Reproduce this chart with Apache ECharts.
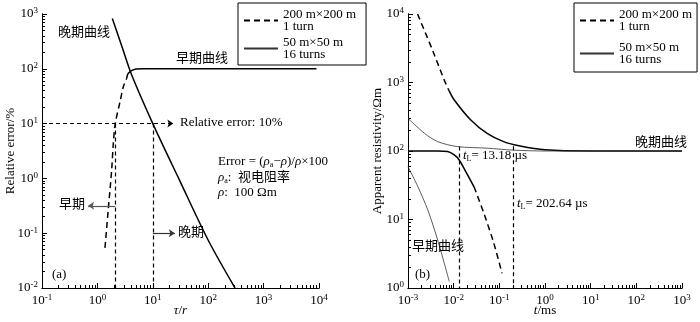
<!DOCTYPE html>
<html>
<head>
<meta charset="utf-8">
<script src="https://cdn.jsdelivr.net/npm/echarts@6/dist/echarts.min.js"></script>
<style>
html, body { margin: 0; padding: 0; background: #fff; }
#chart { width: 700px; height: 322px; }
</style>
</head>
<body>
<div id="chart"></div>
<script>
// (a) 相对误差 vs tau/r
var lateErr = [[1.86, 830], [2.8, 248], [4.16, 77], [10, 10], [30, 0.95], [99, 0.076], [305, 0.01]];
var earlyErrDash = [[1.37, 0.054], [1.57, 0.27], [1.81, 1.43], [1.94, 4.4], [2.1, 10], [2.56, 25], [2.94, 47], [3.38, 67]];
var earlyErrSolid = [[3.38, 67], [3.61, 83], [4.77, 98], [6.8, 100], [9000, 100]];
var errLimit = 10;          // 10% 误差线
var tauEarly = 2.1;         // 早期分界
var tauLate = 10;           // 晚期分界

// (b) 视电阻率 vs t
var late200Dash = [[0.00162, 10000], [0.00343, 2980], [0.00624, 1080], [0.0079, 760]];
var late200Solid = [[0.0079, 760], [0.0103, 556], [0.0237, 284], [0.054, 181], [0.124, 137], [0.286, 118], [1, 104], [10, 100], [1000, 100]];
var late50 = [[0.001, 300], [0.0023, 181], [0.00447, 137], [0.0121, 116], [0.054, 110], [0.2, 103], [1, 100], [1000, 100]];
var early200Solid = [[0.001, 100], [0.0044, 100], [0.00736, 98], [0.0103, 87.5], [0.0132, 74], [0.0184, 50], [0.0279, 30]];
var early200Dash = [[0.0279, 30], [0.0459, 12.3], [0.0757, 4.5], [0.1146, 1.64]];
var early50 = [[0.001, 59], [0.00165, 30], [0.00271, 13.8], [0.00447, 5.0], [0.00802, 1.24]];
var tL = [0.01318, 0.20264];

var name200 = '200 m×200 m\n1 turn';
var name50 = '50 m×50 m\n16 turns';

var serif = '"Liberation Serif", "Noto Sans CJK SC", serif';

function expLabel(v) {
    return '10{s|' + Math.round(Math.log10(v)) + '}';
}

var labelRich = {
    s: { fontSize: 9, fontFamily: serif, color: '#000', verticalAlign: 'top', padding: [0, 0, 6, 0] }
};
var nameRich = {
    i: { fontSize: 13, fontFamily: serif, fontStyle: 'italic', color: '#000' },
    n: { fontSize: 13, fontFamily: serif, color: '#000' }
};

// 主轴: 轴线、标签、名称
function logAxis(grid, lo, hi, name, gap, vertical) {
    return {
        type: 'log', gridIndex: grid,
        min: Math.pow(10, lo), max: Math.pow(10, hi),
        axisLine: { show: true, lineStyle: { color: '#000' } },
        axisTick: { show: true, inside: true, length: 5, lineStyle: { color: '#000' } },
        minorTick: { show: true, splitNumber: 9, length: 3, lineStyle: { color: '#000' } },
        axisLabel: {
            formatter: expLabel, color: '#000',
            fontFamily: serif, fontSize: 13, margin: vertical ? 4 : 5, rich: labelRich
        },
        splitLine: { show: false },
        name: name, nameLocation: 'middle', nameGap: gap, nameMoveOverlap: false,
        nameRotate: vertical ? 90 : 0,
        nameTextStyle: { fontFamily: serif, fontSize: 13, color: '#000', rich: nameRich }
    };
}
// 刻度轴: 只画刻度
function tickAxis(grid, lo, hi, pos) {
    return {
        type: 'log', gridIndex: grid, position: pos,
        min: Math.pow(10, lo), max: Math.pow(10, hi),
        axisLine: { show: true, lineStyle: { color: '#000' } },
        axisTick: { show: true, inside: true, length: 5, lineStyle: { color: '#000' } },
        minorTick: { show: true, splitNumber: 9, length: 3, lineStyle: { color: '#000' } },
        splitLine: { show: false },
        axisLabel: { color: 'rgba(0,0,0,0)' }
    };
}

function curve(name, data, gi, dashed, width, color) {
    var c = color || '#000';
    return {
        name: name, type: 'line', xAxisIndex: gi, yAxisIndex: gi,
        data: data, symbol: 'none', smooth: 0.3,
        itemStyle: { color: c },
        lineStyle: { color: c, width: width || 1.5, type: dashed ? [6, 4] : 'solid' },
        emphasis: { disabled: true }, silent: true, z: 3
    };
}

function seg(a, b, arrow, color) {
    return [
        { coord: a, symbol: 'none' },
        { coord: b, symbol: arrow ? 'arrow' : 'none', symbolSize: 6,
          lineStyle: { color: color || '#000', type: arrow === 'solid' ? 'solid' : [4, 3], width: 1.2 } }
    ];
}

var chart = echarts.init(document.getElementById('chart'), null, { renderer: 'canvas' });

var legendRich = { a: { fontSize: 13, fontFamily: serif, color: '#000', lineHeight: 12 } };
function legendAt(left, gap, pad) {
    return {
        left: left, top: 3,
        orient: 'vertical', selectedMode: false,
        borderColor: '#000', borderWidth: 1, borderRadius: 0,
        padding: pad, itemGap: gap, itemWidth: 34, itemHeight: 12,
        formatter: function (n) {
            return n.split('\n').map(function (s) { return '{a|' + s + '}'; }).join('\n');
        },
        textStyle: { fontFamily: serif, fontSize: 13, color: '#000', rich: legendRich },
        data: [
            { name: name200, itemStyle: { opacity: 0 } },
            { name: name50, itemStyle: { opacity: 0 } }
        ]
    };
}

var option = {
    animation: false,
    backgroundColor: '#fff',
    grid: [
        { left: 42, top: 14, width: 277, height: 274 },
        { left: 408, top: 14, width: 277, height: 274 }
    ],
    legend: [legendAt(238, 3, [5, 10, 4, 5]), legendAt(574, 8, [5, 5, 6, 5])],
    xAxis: [
        logAxis(0, -1, 4, '{i|τ}{n|/}{i|r}', 16, false),
        logAxis(1, -3, 3, '{i|t}{n|/ms}', 16, false),
        tickAxis(0, -1, 4, 'bottom'),
        tickAxis(1, -3, 3, 'bottom')
    ],
    yAxis: [
        logAxis(0, -2, 3, 'Relative error/%', 25, true),
        logAxis(1, 0, 4, 'Apparent resistivity/Ωm', 24, true),
        tickAxis(0, -2, 3, 'left'),
        tickAxis(1, 0, 4, 'left')
    ],
    series: [
        Object.assign(curve('lateErr', lateErr, 0, false), {
            markLine: {
                silent: true, animation: false, label: { show: false }, symbol: 'none',
                lineStyle: { color: '#000', type: [4, 3], width: 1.2 },
                data: [
                    seg([0.1, errLimit], [23.5, errLimit], true),
                    seg([tauEarly, errLimit], [tauEarly, 0.01], false),
                    seg([tauLate, errLimit], [tauLate, 0.01], false),
                    seg([tauEarly, 0.316], [0.68, 0.316], 'solid', '#555'),
                    seg([tauLate, 0.1], [25, 0.1], 'solid', '#333')
                ]
            }
        }),
        curve('earlyErrDash', earlyErrDash, 0, true),
        curve('earlyErrSolid', earlyErrSolid, 0, false),
        curve(name200, late200Dash, 1, true),
        Object.assign(curve('late200Solid', late200Solid, 1, false), {
            markLine: {
                silent: true, animation: false, label: { show: false }, symbol: 'none',
                lineStyle: { color: '#000', type: [4, 3], width: 1.2 },
                data: [
                    seg([tL[0], 116], [tL[0], 1], false),
                    seg([tL[1], 117], [tL[1], 1], false)
                ]
            }
        }),
        curve(name50, late50, 1, false, 0.8, '#333'),
        curve('early200Solid', early200Solid, 1, false),
        curve('early200Dash', early200Dash, 1, true),
        curve('early50', early50, 1, false, 0.8, '#333')
    ],
    graphic: []
};

function txt(x, y, text, rich) {
    return {
        type: 'text', x: x, y: y, silent: true, z: 10,
        style: {
            text: text, fill: '#000', font: '13px ' + serif,
            verticalAlign: 'middle', align: 'left', rich: rich || {}
        }
    };
}
var tRich = {
    i: { fontSize: 13, fontFamily: serif, fontStyle: 'italic', fill: '#000' },
    n: { fontSize: 13, fontFamily: serif, fill: '#000' },
    sub: { fontSize: 8, fontFamily: serif, fill: '#000', verticalAlign: 'bottom', padding: [5, 0, 0, 0] }
};
option.graphic = [
    txt(58, 33, '晚期曲线'),
    txt(176, 59, '早期曲线'),
    txt(180, 123, 'Relative error: 10%'),
    txt(218, 162, '{n|Error = (}{i|ρ}{sub|a}{n|−}{i|ρ}{n|)/}{i|ρ}{n|×100}', tRich),
    txt(218, 178, '{i|ρ}{sub|a}{n|:  视电阻率}', tRich),
    txt(218, 193, '{i|ρ}{n|:  100 Ωm}', tRich),
    txt(59, 205, '早期'),
    txt(178, 233, '晚期'),
    txt(52, 275, '(a)'),
    txt(635, 143, '晚期曲线'),
    txt(463, 156, '{i|t}{sub|L}{n|= 13.18 µs}', tRich),
    txt(517, 204, '{i|t}{sub|L}{n|= 202.64 µs}', tRich),
    txt(412, 247, '早期曲线'),
    txt(415, 275, '(b)')
];

chart.setOption(option);
</script>
</body>
</html>
